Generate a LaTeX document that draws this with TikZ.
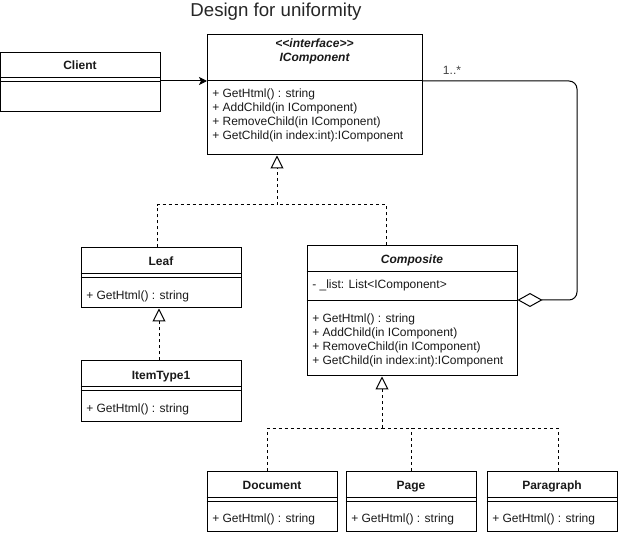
\documentclass[tikz,border=0pt]{standalone}
\usepackage{fontspec}
\setmainfont{Liberation Sans}
\usetikzlibrary{arrows.meta,fit}
\begin{document}
\begin{tikzpicture}[x=0.75pt,y=-0.75pt,
  box/.style={draw, line width=0.75pt, inner sep=0pt},
  sep/.style={line width=0.75pt},
  txt/.style={font=\fontsize{9pt}{10.8pt}\selectfont, inner sep=0pt, text height=6.6pt, text depth=0.6pt, text=black!90},
  hdr/.style={txt, font=\fontsize{9pt}{10.8pt}\selectfont\bfseries},
  ihdr/.style={txt, font=\fontsize{9pt}{10.8pt}\selectfont\bfseries\itshape},
  mth/.style={txt, anchor=west},
  real/.style={line width=0.75pt, dash pattern=on 2.25pt off 2.25pt},
  tri/.style={-{Triangle[open, length=9.75pt, width=9.75pt, line width=0.75pt]}},
  assoc/.style={line width=0.75pt, -{Stealth[length=6pt, width=6pt, inset=1.5pt]}},
  aggr/.style={line width=0.75pt, rounded corners=6pt, -{Diamond[open, length=18.75pt, width=10.5pt, line width=0.75pt]}}
]
\useasboundingbox (0,0) rectangle (619,535);

% title
\node[font=\fontsize{14pt}{16pt}\selectfont, inner sep=0pt, text=black!85] (title) at (276,12) {Design for uniformity};

% Client
\node[box, fit={(0,53) (160,112)}] (client) {};
\node[hdr] (clientT) at (80,66) {Client};
\draw[sep] (client.west |- 0,78) -- (client.east |- 0,78);
\draw[sep] (client.west |- 0,82) -- (client.east |- 0,82);

% IComponent
\node[box, fit={(207,35) (422,155)}] (icomp) {};
\node[ihdr] (icompS) at (314.5,44) {<\kern0pt<interface>\kern0pt>};
\node[ihdr] (icompT) at (314.5,57.5) {IComponent};
\draw[sep] (icomp.west |- 0,81) -- (icomp.east |- 0,81);
\node[mth] (im1) at (212,93.5) {+ GetHtml() : string};
\node[mth] (im2) at (212,107.5) {+ AddChild(in IComponent)};
\node[mth] (im3) at (212,121.5) {+ RemoveChild(in IComponent)};
\node[mth] (im4) at (212,135.5) {+ GetChild(in index:int):IComponent};

% Leaf
\node[box, fit={(81,248) (241,308)}] (leaf) {};
\node[hdr] (leafT) at (161,262) {Leaf};
\draw[sep] (leaf.west |- 0,274) -- (leaf.east |- 0,274);
\draw[sep] (leaf.west |- 0,278) -- (leaf.east |- 0,278);
\node[mth] (lm1) at (86,296) {+ GetHtml() : string};

% ItemType1
\node[box, fit={(81,361) (241,421)}] (item) {};
\node[hdr] (itemT) at (161,375) {ItemType1};
\draw[sep] (item.west |- 0,387) -- (item.east |- 0,387);
\draw[sep] (item.west |- 0,391) -- (item.east |- 0,391);
\node[mth] (itm1) at (86,408.5) {+ GetHtml() : string};

% Composite
\node[box, fit={(307,246) (517,376)}] (comp) {};
\node[ihdr] (compT) at (412,259) {Composite};
\draw[sep] (comp.west |- 0,272) -- (comp.east |- 0,272);
\node[mth] (ca1) at (312,285) {- \_list: List<IComponent>};
\draw[sep] (comp.west |- 0,301) -- (comp.east |- 0,301);
\node[mth] (cm1) at (312,318.5) {+ GetHtml() : string};
\node[mth] (cm2) at (312,332.5) {+ AddChild(in IComponent)};
\node[mth] (cm3) at (312,346.5) {+ RemoveChild(in IComponent)};
\node[mth] (cm4) at (312,360.5) {+ GetChild(in index:int):IComponent};

% Document, Page, Paragraph
\node[box, fit={(207,471) (337,531)}] (doc) {};
\node[hdr] (docT) at (272,485) {Document};
\draw[sep] (doc.west |- 0,497) -- (doc.east |- 0,497);
\draw[sep] (doc.west |- 0,501) -- (doc.east |- 0,501);
\node[mth] (dm1) at (212,518.5) {+ GetHtml() : string};

\node[box, fit={(346,471) (476,531)}] (page) {};
\node[hdr] (pageT) at (411,485) {Page};
\draw[sep] (page.west |- 0,497) -- (page.east |- 0,497);
\draw[sep] (page.west |- 0,501) -- (page.east |- 0,501);
\node[mth] (pm1) at (351,518.5) {+ GetHtml() : string};

\node[box, fit={(487,471) (617,531)}] (para) {};
\node[hdr] (paraT) at (552,485) {Paragraph};
\draw[sep] (para.west |- 0,497) -- (para.east |- 0,497);
\draw[sep] (para.west |- 0,501) -- (para.east |- 0,501);
\node[mth] (pam1) at (492,518.5) {+ GetHtml() : string};

% Client -> IComponent
\coordinate (icin) at (207,81);
\draw[assoc] (client.east |- icin) -- (icin);

% aggregation
\coordinate (aggA) at (577,81);
\coordinate (aggB) at (577,300);
\draw[aggr] (icomp.east |- aggA) -- (aggA) -- (aggB) -- (comp.east |- aggB);
\node[txt, text=black!75] (mult) at (452,71) {1..*};

% realization IComponent <- Leaf, Composite
\coordinate (j1) at (277,205);
\draw[real] (157,0 |- leaf.north) |- (j1);
\draw[real] (386,0 |- comp.north) |- (j1);
\draw[real, tri] (j1) -- (277,0 |- icomp.south);

% realization Leaf <- ItemType1
\draw[real, tri] (159,0 |- item.north) -- (159,0 |- leaf.south);

% realization Composite <- Document, Page, Paragraph
\coordinate (j2) at (382,428);
\draw[real] (267,0 |- doc.north) |- (j2);
\draw[real] (558,0 |- para.north) |- (j2);
\draw[real] (page.north) -- (page.north |- j2);
\draw[real, tri] (j2) -- (382,0 |- comp.south);
\end{tikzpicture}
\end{document}
